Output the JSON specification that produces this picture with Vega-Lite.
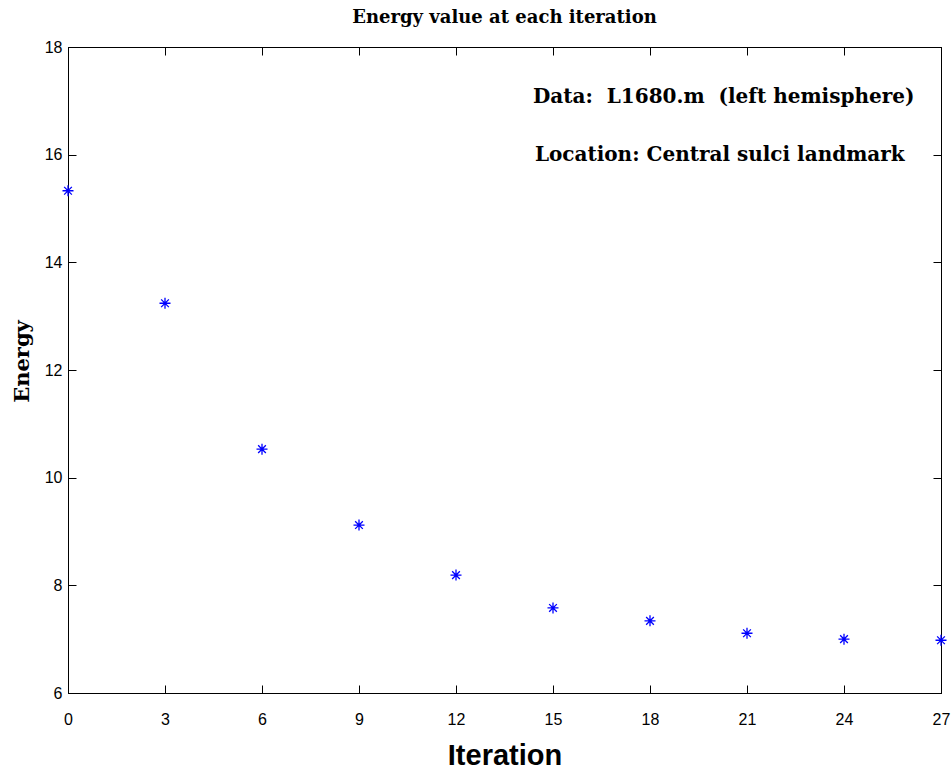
{
  "$schema": "https://vega.github.io/schema/vega-lite/v6.json",
  "autosize": "none",
  "width": 873,
  "height": 646,
  "padding": {"left": 68, "top": 47, "right": 10, "bottom": 82},
  "background": "white",
  "config": {
    "view": {"stroke": "black", "strokeWidth": 1},
    "axis": {
      "domainColor": "black",
      "tickColor": "black",
      "grid": false,
      "labelColor": "black",
      "labelFont": "Liberation Sans",
      "labelFontSize": 16,
      "labelFlush": false,
      "labelOverlap": false,
      "tickSize": -8
    }
  },
  "title": {
    "text": "Energy value at each iteration",
    "font": "DejaVu Serif",
    "fontSize": 18,
    "fontWeight": "bold",
    "color": "black",
    "anchor": "middle",
    "offset": 12
  },
  "datasets": {
    "energy": [
      {"iteration": 0, "energy": 15.33},
      {"iteration": 3, "energy": 13.24},
      {"iteration": 6, "energy": 10.53},
      {"iteration": 9, "energy": 9.12},
      {"iteration": 12, "energy": 8.19},
      {"iteration": 15, "energy": 7.58},
      {"iteration": 18, "energy": 7.34},
      {"iteration": 21, "energy": 7.11},
      {"iteration": 24, "energy": 7.0},
      {"iteration": 27, "energy": 6.98}
    ],
    "notes": [
      {"iteration": 14.38, "energy": 17.07, "note": "Data:\u00a0\u00a0L1680.m\u00a0\u00a0(left hemisphere)"},
      {"iteration": 14.44, "energy": 15.99, "note": "Location: Central sulci landmark"}
    ]
  },
  "layer": [
    {
      "data": {"name": "energy"},
      "mark": {
        "type": "point",
        "shape": "M-1,0L1,0M0,-1L0,1M-0.7,-0.7L0.7,0.7M-0.7,0.7L0.7,-0.7",
        "filled": false,
        "stroke": "#0000ff",
        "strokeWidth": 1.3,
        "size": 121,
        "opacity": 1,
        "clip": false
      },
      "encoding": {
        "x": {
          "field": "iteration",
          "type": "quantitative",
          "scale": {"domain": [0, 27], "nice": false, "zero": false},
          "axis": {
            "orient": "bottom",
            "values": [0, 3, 6, 9, 12, 15, 18, 21, 24, 27],
            "labelPadding": 26,
            "labelFontSize": 16,
            "title": "Iteration",
            "titleFont": "Liberation Sans",
            "titleFontSize": 29,
            "titleFontWeight": "bold",
            "titleColor": "black",
            "titlePadding": 14
          }
        },
        "y": {
          "field": "energy",
          "type": "quantitative",
          "scale": {"domain": [6, 18], "nice": false, "zero": false},
          "axis": {
            "orient": "left",
            "values": [6, 8, 10, 12, 14, 16, 18],
            "labelPadding": 14,
            "labelFontSize": 16,
            "title": "Energy",
            "titleFont": "DejaVu Serif",
            "titleFontSize": 21,
            "titleFontWeight": "bold",
            "titleColor": "black",
            "titlePadding": 12,
            "titleY": 314
          }
        }
      }
    },
    {
      "data": {"name": "energy"},
      "mark": {"type": "point", "opacity": 0},
      "encoding": {
        "x": {
          "field": "iteration",
          "type": "quantitative",
          "scale": {"domain": [0, 27], "nice": false, "zero": false},
          "axis": {"orient": "top", "values": [0, 3, 6, 9, 12, 15, 18, 21, 24, 27], "labels": false, "title": null}
        },
        "y": {
          "field": "energy",
          "type": "quantitative",
          "scale": {"domain": [6, 18], "nice": false, "zero": false},
          "axis": {"orient": "right", "values": [6, 8, 10, 12, 14, 16, 18], "labels": false, "title": null}
        }
      }
    },
    {
      "data": {"name": "notes"},
      "mark": {
        "type": "text",
        "align": "left",
        "baseline": "middle",
        "font": "DejaVu Serif",
        "fontSize": 20,
        "fontWeight": "bold",
        "color": "black"
      },
      "encoding": {
        "x": {"field": "iteration", "type": "quantitative", "axis": null},
        "y": {"field": "energy", "type": "quantitative", "axis": null},
        "text": {"field": "note"}
      }
    }
  ],
  "resolve": {"axis": {"x": "independent", "y": "independent"}}
}
